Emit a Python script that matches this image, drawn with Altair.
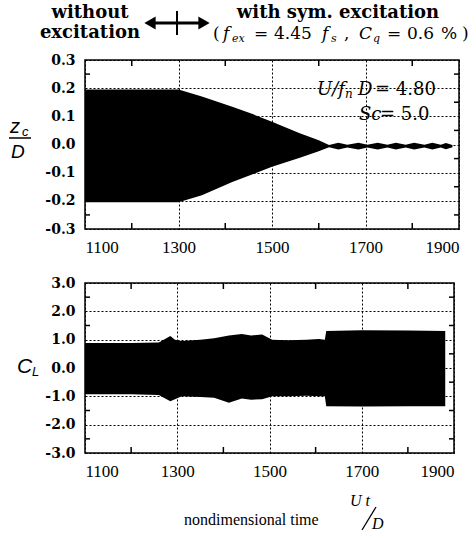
import altair as alt
import pandas as pd

# ---------------- data (signal envelopes) ----------------
zc_time  = [1100, 1300, 1350, 1415, 1460, 1500, 1558, 1600, 1622, 1642, 1661, 1685, 1704,
            1726, 1747, 1765, 1786, 1804, 1826, 1843, 1861, 1872, 1886]
zc_upper = [0.195, 0.195, 0.170, 0.134, 0.107, 0.081, 0.041, 0.015, -0.002, 0.006, -0.001,
            0.006, -0.001, 0.006, -0.001, 0.006, -0.001, 0.006, -0.001, 0.006, -0.001, 0.005, -0.002]
zc_lower = [-0.205, -0.205, -0.180, -0.133, -0.105, -0.079, -0.048, -0.024, -0.010, -0.018,
            -0.011, -0.018, -0.011, -0.018, -0.011, -0.018, -0.011, -0.018, -0.011, -0.018,
            -0.011, -0.017, -0.010]

cl_time  = [1100, 1200, 1260, 1285, 1295, 1310, 1350, 1380, 1412, 1440, 1460, 1484, 1506,
            1540, 1580, 1607, 1620, 1623, 1700, 1800, 1881]
cl_upper = [0.88, 0.88, 0.90, 1.13, 1.00, 0.95, 1.00, 1.05, 1.15, 1.20, 1.15, 1.18, 1.00,
            0.98, 1.00, 1.02, 1.00, 1.31, 1.33, 1.32, 1.31]
cl_lower = [-0.93, -0.93, -0.95, -1.17, -1.10, -1.00, -1.02, -1.05, -1.23, -1.08, -1.12, -1.10,
            -1.00, -1.00, -0.98, -1.00, -1.00, -1.35, -1.36, -1.35, -1.35]

x_major = [1100, 1300, 1500, 1700, 1900]
x_minor = [1200, 1400, 1600, 1800]
zc_major = [-0.3, -0.2, -0.1, 0.0, 0.1, 0.2, 0.3]
zc_minor = [-0.25, -0.15, -0.05, 0.05, 0.15, 0.25]
cl_major = [-3, -2, -1, 0, 1, 2, 3]
cl_minor = [-2.5, -1.5, -0.5, 0.5, 1.5, 2.5]

# ---------------- layout ----------------
W1, W2 = 374, 369
H1, H2 = 169, 170
OX, OY1, OY2 = 83, 60, 282   # intended plot origins in the window

one = pd.DataFrame({"k": [0]})
xscale = alt.Scale(domain=[1100, 1900], nice=False, zero=False)


def xaxis():
    return alt.Axis(values=x_major, format="d", grid=True, gridDash=[2, 2], gridColor="black",
                    gridOpacity=1, gridWidth=1, ticks=False, domain=False,
                    labelFont="Liberation Serif", labelFontSize=17, labelColor="black",
                    labelPadding=10, title=None)


def yaxis(vals):
    return alt.Axis(values=vals, grid=True, gridDash=[2, 2], gridColor="black", gridOpacity=1,
                    gridWidth=1, ticks=False, domain=False,
                    labelExpr="replace(format(datum.value, '.1f'), '\u2212', '-')",
                    labelFont="DejaVu Serif", labelFontWeight="bold", labelFontSize=14,
                    labelColor="black", labelPadding=10, title=None)


def txt(s, x, y, oy, size, font="DejaVu Serif", weight="normal", style="normal",
        align="left", baseline="alphabetic"):
    return alt.Chart(one).mark_text(
        text=s, font=font, fontSize=size, fontWeight=weight, fontStyle=style,
        align=align, baseline=baseline, color="black"
    ).encode(x=alt.value(x - OX), y=alt.value(y - oy))


def inner_ticks(yscale, yax, minor, W, H):
    xt = pd.DataFrame({"t": x_minor})
    yt = pd.DataFrame({"hi": minor})
    base_x = alt.Chart(xt).mark_rule(color="black", strokeWidth=1.5)
    base_y = alt.Chart(yt).mark_rule(color="black", strokeWidth=1.5)
    return [
        base_x.encode(x=alt.X("t:Q", scale=xscale, axis=xaxis()), y=alt.value(0), y2=alt.value(6)),
        base_x.encode(x=alt.X("t:Q", scale=xscale, axis=xaxis()), y=alt.value(H), y2=alt.value(H - 6)),
        base_y.encode(y=alt.Y("hi:Q", scale=yscale, axis=yax), x=alt.value(0), x2=alt.value(5)),
        base_y.encode(y=alt.Y("hi:Q", scale=yscale, axis=yax), x=alt.value(W - 5), x2=alt.value(W)),
    ]


# ---------------- top panel ----------------
zc_scale = alt.Scale(domain=[-0.3, 0.3], nice=False, zero=False)
zc_df = pd.DataFrame({"t": zc_time, "hi": zc_upper, "lo": zc_lower})
zc_area = alt.Chart(zc_df).mark_area(color="black", opacity=1).encode(
    x=alt.X("t:Q", scale=xscale, axis=xaxis()),
    y=alt.Y("hi:Q", scale=zc_scale, axis=yaxis(zc_major)),
    y2="lo:Q",
)

top_layers = [zc_area] + inner_ticks(zc_scale, yaxis(zc_major), zc_minor, W1, H1) + [
    # header
    txt("without", 88, 18, OY1, 18, weight="bold", align="center"),
    txt("excitation", 88, 38, OY1, 18, weight="bold", align="center"),
    txt("with  sym.  excitation", 336, 18, OY1, 18, weight="bold", align="center"),
    txt("(", 211, 39, OY1, 17),
    txt("f", 221, 39, OY1, 17, style="italic"),
    txt("ex", 230, 42, OY1, 11, style="italic"),
    txt("=", 252, 39, OY1, 17),
    txt("4.45", 272, 39, OY1, 17),
    txt("f", 320, 39, OY1, 17, style="italic"),
    txt("s", 329, 42, OY1, 11, style="italic"),
    txt(",", 342, 39, OY1, 17),
    txt("C", 357, 39, OY1, 17, style="italic"),
    txt("q", 371, 42, OY1, 11, style="italic"),
    txt("=", 385, 39, OY1, 17),
    txt("0.6", 405, 39, OY1, 17),
    txt("%", 439, 39, OY1, 17),
    txt(")", 460, 39, OY1, 17),
    # double arrow with bar
    alt.Chart(one).mark_rule(color="black", strokeWidth=3).encode(
        x=alt.value(150 - OX), x2=alt.value(200 - OX), y=alt.value(23 - OY1)),
    alt.Chart(one).mark_rule(color="black", strokeWidth=2).encode(
        x=alt.value(175 - OX), y=alt.value(11 - OY1), y2=alt.value(35 - OY1)),
    alt.Chart(one).mark_point(shape="triangle-left", filled=True, size=170, color="black",
                              opacity=1).encode(x=alt.value(148 - OX), y=alt.value(23 - OY1)),
    alt.Chart(one).mark_point(shape="triangle-right", filled=True, size=170, color="black",
                              opacity=1).encode(x=alt.value(202 - OX), y=alt.value(23 - OY1)),
    # annotation
    txt("U/f", 315, 95, OY1, 18, style="italic"),
    txt("n", 343, 98, OY1, 12, style="italic"),
    txt("D", 356, 95, OY1, 18, style="italic"),
    txt("= 4.80", 373, 95, OY1, 18),
    txt("Sc", 357, 120, OY1, 18, style="italic"),
    txt("= 5.0", 378, 120, OY1, 18),
    # y title z_c / D
    txt("z", 8, 133, OY1, 20, font="Liberation Sans", style="italic"),
    txt("c", 20, 136, OY1, 13, font="Liberation Sans", style="italic"),
    alt.Chart(one).mark_rule(color="black", strokeWidth=1.5).encode(
        x=alt.value(7 - OX), x2=alt.value(29 - OX), y=alt.value(138 - OY1)),
    txt("D", 9, 158, OY1, 19, font="Liberation Sans", style="italic"),
]
top = alt.layer(*top_layers).properties(width=W1, height=H1)

# ---------------- bottom panel ----------------
cl_scale = alt.Scale(domain=[-3, 3], nice=False, zero=False)
cl_df = pd.DataFrame({"t": cl_time, "hi": cl_upper, "lo": cl_lower})
cl_area = alt.Chart(cl_df).mark_area(color="black", opacity=1).encode(
    x=alt.X("t:Q", scale=xscale, axis=xaxis()),
    y=alt.Y("hi:Q", scale=cl_scale, axis=yaxis(cl_major)),
    y2="lo:Q",
)

bottom_layers = [cl_area] + inner_ticks(cl_scale, yaxis(cl_major), cl_minor, W2, H2) + [
    txt("C", 15, 372, OY2, 21, font="Liberation Sans", style="italic"),
    txt("L", 30, 375, OY2, 13, font="Liberation Sans", style="italic"),
    txt("nondimensional time", 182, 524, OY2, 16, font="Liberation Serif"),
    txt("U t", 348, 505, OY2, 16, font="Liberation Serif", style="italic"),
    txt("D", 370, 528, OY2, 16, font="Liberation Serif", style="italic"),
    alt.Chart(one).mark_rule(color="black", strokeWidth=1.3).encode(
        x=alt.value(360 - OX), y=alt.value(529 - OY2), x2=alt.value(374 - OX),
        y2=alt.value(506 - OY2)),
]
bottom = alt.layer(*bottom_layers).properties(width=W2, height=H2)

chart = alt.vconcat(top, bottom, spacing=19).properties(
    padding={"left": 7, "top": 3, "right": 0, "bottom": 0},
    background="white",
).configure_view(stroke="black", strokeWidth=1.5)

chart.save("out.html", embed_options={"renderer": "svg", "actions": False})
